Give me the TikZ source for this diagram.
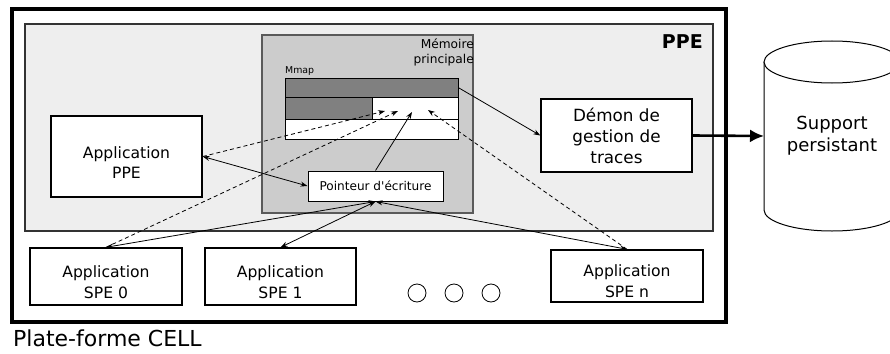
\documentclass[tikz,border=0pt]{standalone}
\usepackage{fontspec}
\setmainfont{DejaVu Sans}[Ligatures=TeXOff]
\usetikzlibrary{arrows.meta}
\definecolor{ppefill}{HTML}{EEEEEE}
\definecolor{memfill}{HTML}{CCCCCC}
\definecolor{darkcell}{HTML}{808080}
\definecolor{ppeborder}{HTML}{333333}
\definecolor{memborder}{HTML}{5A5A5A}
\tikzset{
  x=1pt,y=-1pt,
  appbox/.style={draw=black, line width=1.4pt, fill=white, align=center, inner sep=0pt,
     font=\fontsize{15.6}{20.5}\selectfont},
  boxtext/.style={align=center, inner sep=0pt, font=\fontsize{15.6}{20.5}\selectfont},
  cell/.style={draw=black, line width=0.9pt, inner sep=0pt, anchor=north west},
  conn/.style={line width=0.8pt, -{Stealth[length=7pt,width=5pt]}},
  dconn/.style={line width=0.8pt, dashed, dash pattern=on 4pt off 3pt, -{Stealth[length=7pt,width=5pt]}},
  biconn/.style={line width=0.8pt, {Stealth[length=7pt,width=5pt]}-{Stealth[length=7pt,width=5pt]}},
  dots/.style={draw=black, line width=0.8pt, circle, minimum size=18pt, inner sep=0pt},
}
\begin{document}
\begin{tikzpicture}
\useasboundingbox (0,0) rectangle (890,353);
% outer platform
\draw[line width=4pt] (12,9) rectangle (726,322);
% PPE area
\draw[fill=ppefill, draw=ppeborder, line width=1.5pt] (25,24) rectangle (713,231);
\node[anchor=east, inner sep=0pt, font=\fontsize{19}{22}\selectfont\bfseries] (ppelabel) at (703,42) {PPE};
% memory
\draw[fill=memfill, draw=memborder, line width=1.2pt] (262,35) rectangle (473,213);
\node[anchor=east, inner sep=0pt, align=right, font=\fontsize{12.2}{15}\selectfont] (memlabel) at (474,52.5) {Mémoire\\principale};
\node[anchor=west, inner sep=0pt, font=\fontsize{9.4}{11}\selectfont] (mmaplabel) at (285,71) {Mmap};
% mmap cells
\node[cell, fill=darkcell, minimum width=173pt, minimum height=19pt] (mm1) at (285,78) {};
\node[cell, fill=darkcell, minimum width=87pt, minimum height=22pt] (mm2a) at (285,97) {};
\node[cell, fill=white, minimum width=86pt, minimum height=22pt] (mm2b) at (372,97) {};
\node[cell, fill=white, minimum width=173pt, minimum height=20pt] (mm3) at (285,119) {};
\coordinate (t1) at (385,111);
\coordinate (t2) at (398,111);
\coordinate (t3) at (412,112);
\coordinate (t4) at (428,110);
% boxes
\node[appbox, minimum width=151pt, minimum height=81pt] (app) at (126.5,156.5) {};
\node[boxtext] (apptext) at ([yshift=-6pt]app.center) {Application\\PPE};
\node[appbox, line width=1pt, minimum width=135pt, minimum height=30pt, font=\fontsize{12.1}{14}\selectfont] (ptr) at (375.5,186) {Pointeur d'écriture};
\node[appbox, minimum width=151pt, minimum height=73pt, font=\fontsize{16.8}{21}\selectfont] (demon) at (616.5,135.5) {Démon de\\gestion de\\traces};
\node[appbox, minimum width=152pt, minimum height=57pt] (spe0) at (106,276.5) {};
\node[boxtext] (spe0text) at ([yshift=-5.5pt]spe0.center) {Application\\SPE 0};
\node[appbox, minimum width=151pt, minimum height=57pt] (spe1) at (280.5,276.5) {};
\node[boxtext] (spe1text) at ([yshift=-5.5pt]spe1.center) {Application\\SPE 1};
\node[appbox, minimum width=152pt, minimum height=52pt] (spen) at (627,276) {};
\node[boxtext] (spentext) at ([yshift=-5pt]spen.center) {Application\\SPE n};
\node[dots] (c1) at (417,293) {};
\node[dots] (c2) at (454,293) {};
\node[dots] (c3) at (491,293) {};
% cylinder
\draw[fill=white, line width=1pt] (764,62) -- (764,210) arc[start angle=180, end angle=360, x radius=68pt, y radius=21pt] -- (900,62);
\draw[fill=white, line width=1pt] (832,62) ellipse [x radius=68pt, y radius=21pt];
\node[align=center, inner sep=0pt, font=\fontsize{18}{22}\selectfont] (cyltext) at (832,136) {Support\\persistant};
\coordinate (cylw) at (764,136);
% connectors
\draw[biconn] (app.east) -- (ptr.west);
\draw[conn] (ptr.north) -- (t3);
\draw[biconn] (ptr.south) -- (spe0.north);
\draw[biconn] (ptr.south) -- (spe1.north);
\draw[biconn] (ptr.south) -- (spen.north);
\draw[conn] (mm1.east) -- (demon.west);
\draw[dconn] (app.east) -- (t1);
\draw[dconn] (spe0.north) -- (t2);
\draw[dconn] (spen.north) -- (t4);
\draw[line width=2.6pt, -{Latex[length=14pt,width=13pt]}] (demon.east) -- (cylw);
% caption
\node[anchor=west, inner sep=0pt, font=\fontsize{22}{25}\selectfont] (caption) at (13,338) {Plate-forme CELL};
\end{tikzpicture}
\end{document}
